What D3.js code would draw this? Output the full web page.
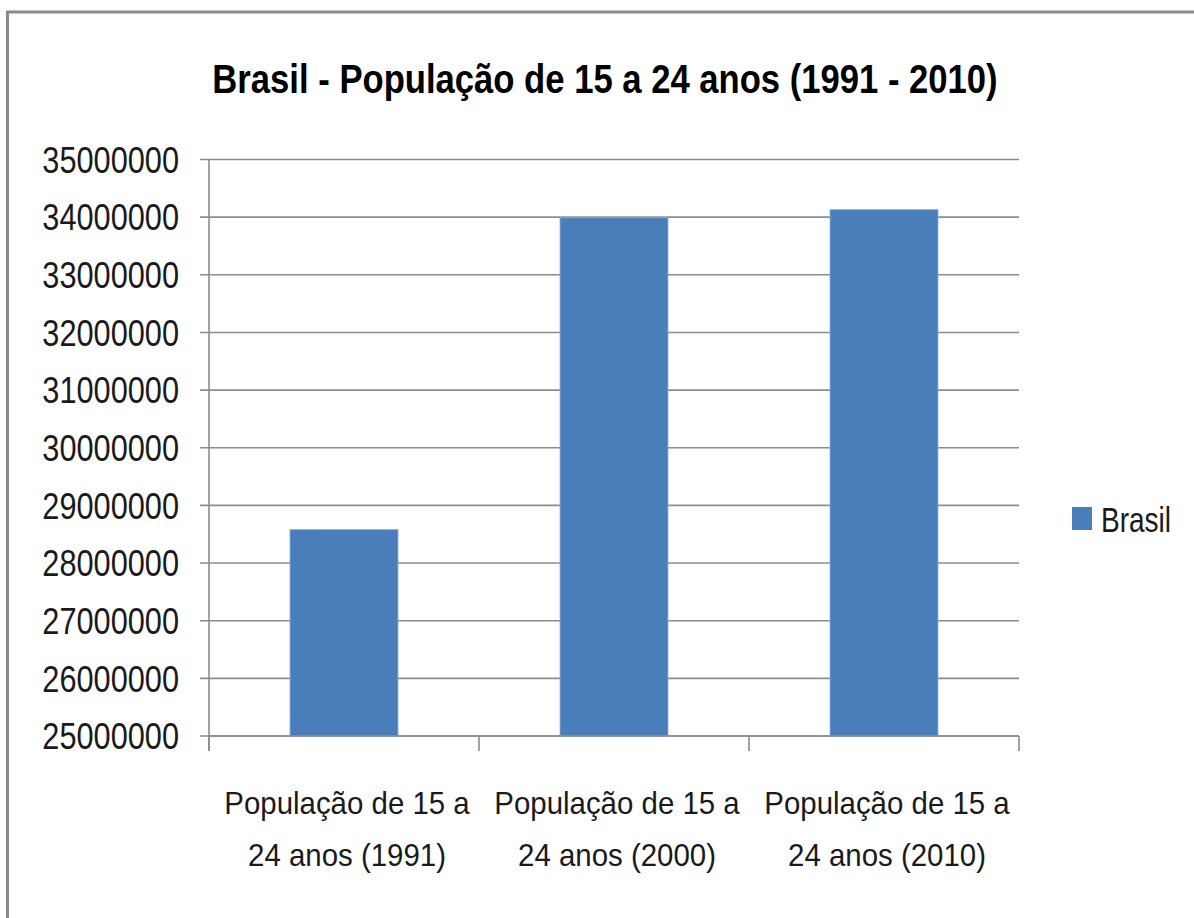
<!DOCTYPE html>
<html>
<head>
<meta charset="utf-8">
<script src="https://cdn.jsdelivr.net/npm/d3@7"></script>
<style>
  html, body { margin: 0; padding: 0; background: #fff; }
  svg { display: block; }
</style>
</head>
<body>
<svg id="chart" width="1194" height="918"></svg>
<script>
const titleText = "Brasil - População de 15 a 24 anos (1991 - 2010)";
const categories = [
  ["População de 15 a", "24 anos (1991)"],
  ["População de 15 a", "24 anos (2000)"],
  ["População de 15 a", "24 anos (2010)"]
];
const seriesName = "Brasil";
const values = [28580000, 33990000, 34130000];
const yTicks = [25000000, 26000000, 27000000, 28000000, 29000000, 30000000,
                31000000, 32000000, 33000000, 34000000, 35000000];

const svg = d3.select("#chart");
const font = "'Liberation Sans', Arial, sans-serif";

// outer chart border
svg.append("rect")
  .attr("x", 7.5).attr("y", 12)
  .attr("width", 1300).attr("height", 1000)
  .attr("fill", "#fff")
  .attr("stroke", "#8a8a8a").attr("stroke-width", 3);

const plot = { left: 209, right: 1019, top: 159.5, bottom: 736 };

const x = d3.scaleBand()
  .domain(d3.range(categories.length))
  .range([plot.left, plot.right])
  .paddingInner(0.6).paddingOuter(0.3);

const y = d3.scaleLinear()
  .domain([yTicks[0], yTicks[yTicks.length - 1]])
  .range([plot.bottom, plot.top]);

// gridlines
svg.append("g")
  .selectAll("line")
  .data(yTicks)
  .join("line")
  .attr("x1", plot.left - 9).attr("x2", plot.right)
  .attr("y1", d => y(d)).attr("y2", d => y(d))
  .attr("stroke", "#8c8c8c").attr("stroke-width", 1.6);

// y labels (horizontally condensed)
svg.append("g")
  .selectAll("text")
  .data(yTicks)
  .join("text")
  .attr("transform", d => `translate(179,${y(d)}) scale(0.83,1)`)
  .attr("dy", "0.36em")
  .attr("text-anchor", "end")
  .attr("font-family", font)
  .attr("font-size", 37)
  .attr("fill", "#1a1a1a")
  .text(d => d3.format("d")(d));

// bars
svg.append("g")
  .selectAll("rect")
  .data(values)
  .join("rect")
  .attr("x", (d, i) => x(i))
  .attr("width", x.bandwidth())
  .attr("y", d => y(d))
  .attr("height", d => y(yTicks[0]) - y(d))
  .attr("fill", "#4a7ebb")
  .attr("stroke", "#8fb0d8").attr("stroke-width", 0.8);

// axes lines
svg.append("line")
  .attr("x1", plot.left).attr("x2", plot.left)
  .attr("y1", plot.top).attr("y2", plot.bottom + 15)
  .attr("stroke", "#8c8c8c").attr("stroke-width", 1.6);
svg.append("line")
  .attr("x1", plot.left).attr("x2", plot.right)
  .attr("y1", plot.bottom).attr("y2", plot.bottom)
  .attr("stroke", "#8c8c8c").attr("stroke-width", 1.6);

// category boundary ticks
const boundaries = d3.range(categories.length + 1).map(i => plot.left + i * x.step());
svg.append("g")
  .selectAll("line")
  .data(boundaries)
  .join("line")
  .attr("x1", d => d).attr("x2", d => d)
  .attr("y1", plot.bottom).attr("y2", plot.bottom + 15)
  .attr("stroke", "#8c8c8c").attr("stroke-width", 1.6);

// category labels
const catG = svg.append("g");
categories.forEach((lines, i) => {
  const cx = x(i) + x.bandwidth() / 2 + 3;
  const g = catG.append("g").attr("transform", `translate(${cx},0) scale(0.92,1)`);
  const t = g.append("text")
    .attr("text-anchor", "middle")
    .attr("font-family", font)
    .attr("font-size", 32)
    .attr("fill", "#1a1a1a");
  lines.forEach((ln, j) => {
    t.append("tspan").attr("x", 0).attr("y", 814 + j * 52).text(ln);
  });
});

// title
svg.append("text")
  .attr("transform", "translate(605,93) scale(0.845,1)")
  .attr("text-anchor", "middle")
  .attr("font-family", font)
  .attr("font-weight", "bold")
  .attr("font-size", 41)
  .attr("fill", "#000")
  .text(titleText);

// legend
svg.append("rect")
  .attr("x", 1072).attr("y", 507)
  .attr("width", 20).attr("height", 23)
  .attr("fill", "#4a7ebb");
svg.append("text")
  .attr("transform", "translate(1101,532) scale(0.8,1)")
  .attr("font-family", font)
  .attr("font-size", 35)
  .attr("fill", "#1a1a1a")
  .text(seriesName);
</script>
</body>
</html>
